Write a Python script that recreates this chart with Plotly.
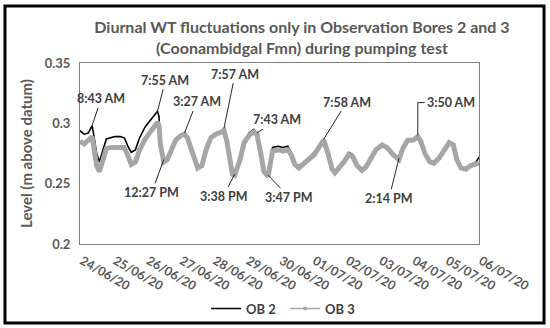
import plotly.graph_objects as go

times = [
    "2020-06-24 00:00", "2020-06-24 03:00", "2020-06-24 06:00", "2020-06-24 08:43",
    "2020-06-24 10:00", "2020-06-24 12:00", "2020-06-24 14:00", "2020-06-24 17:00",
    "2020-06-24 19:00", "2020-06-24 22:00", "2020-06-25 01:00", "2020-06-25 05:00",
    "2020-06-25 08:00", "2020-06-25 11:00", "2020-06-25 13:00", "2020-06-25 16:00",
    "2020-06-25 19:00", "2020-06-25 23:00", "2020-06-26 03:00", "2020-06-26 05:00",
    "2020-06-26 07:55", "2020-06-26 09:00", "2020-06-26 10:00", "2020-06-26 12:27",
    "2020-06-26 15:00", "2020-06-26 18:00", "2020-06-26 21:00", "2020-06-27 01:00",
    "2020-06-27 03:27", "2020-06-27 05:30", "2020-06-27 08:00", "2020-06-27 11:00",
    "2020-06-27 13:00", "2020-06-27 16:00", "2020-06-27 19:00", "2020-06-27 22:30",
    "2020-06-28 02:00", "2020-06-28 06:30", "2020-06-28 07:57", "2020-06-28 10:00",
    "2020-06-28 12:00", "2020-06-28 14:00", "2020-06-28 15:38", "2020-06-28 19:30",
    "2020-06-28 22:30", "2020-06-29 02:00", "2020-06-29 05:30", "2020-06-29 07:43",
    "2020-06-29 10:30", "2020-06-29 12:45", "2020-06-29 15:47", "2020-06-29 17:00",
    "2020-06-29 19:00", "2020-06-29 23:00", "2020-06-30 02:30", "2020-06-30 06:00",
    "2020-06-30 08:30", "2020-06-30 11:00", "2020-06-30 14:00", "2020-06-30 18:00",
    "2020-06-30 21:30", "2020-07-01 01:00", "2020-07-01 04:30", "2020-07-01 07:58",
    "2020-07-01 11:00", "2020-07-01 14:00", "2020-07-01 16:00", "2020-07-01 19:00",
    "2020-07-01 22:30", "2020-07-02 02:00", "2020-07-02 05:00", "2020-07-02 08:00",
    "2020-07-02 11:30", "2020-07-02 14:30", "2020-07-02 18:00", "2020-07-02 21:30",
    "2020-07-03 02:00", "2020-07-03 05:30", "2020-07-03 10:00", "2020-07-03 14:14",
    "2020-07-03 17:00", "2020-07-03 20:30", "2020-07-04 00:30", "2020-07-04 03:50",
    "2020-07-04 06:00", "2020-07-04 09:00", "2020-07-04 12:30", "2020-07-04 15:30",
    "2020-07-04 19:00", "2020-07-04 23:00", "2020-07-05 02:30", "2020-07-05 05:30",
    "2020-07-05 08:00", "2020-07-05 11:00", "2020-07-05 14:30", "2020-07-05 18:00",
    "2020-07-05 22:00", "2020-07-06 00:00",
]

ob2 = [
    0.294, 0.291, 0.292, 0.298, 0.290, 0.275, 0.268, 0.280,
    0.287, 0.288, 0.289, 0.289, 0.288, 0.280, 0.276, 0.278,
    0.288, 0.297, 0.303, 0.306, 0.310, 0.306, 0.285, 0.270,
    0.272, 0.279, 0.287, 0.291, 0.292, 0.289, 0.281, 0.268,
    0.264, 0.266, 0.279, 0.289, 0.292, 0.294, 0.296, 0.286,
    0.268, 0.258, 0.258, 0.271, 0.285, 0.292, 0.295, 0.292,
    0.276, 0.260, 0.257, 0.266, 0.280, 0.281, 0.280, 0.281,
    0.276, 0.267, 0.265, 0.268, 0.272, 0.276, 0.281, 0.287,
    0.276, 0.263, 0.260, 0.264, 0.269, 0.276, 0.274, 0.266,
    0.262, 0.265, 0.272, 0.279, 0.283, 0.281, 0.275, 0.271,
    0.280, 0.287, 0.287, 0.290, 0.286, 0.276, 0.269, 0.268,
    0.272, 0.279, 0.285, 0.283, 0.271, 0.264, 0.263, 0.266,
    0.268, 0.272,
]

ob3 = [
    0.285, 0.283, 0.286, 0.289, 0.280, 0.265, 0.260, 0.270,
    0.279, 0.280, 0.280, 0.281, 0.280, 0.272, 0.266, 0.268,
    0.278, 0.287, 0.293, 0.297, 0.301, 0.298, 0.283, 0.268,
    0.270, 0.278, 0.286, 0.290, 0.291, 0.288, 0.280, 0.268,
    0.263, 0.265, 0.278, 0.288, 0.291, 0.293, 0.294, 0.285,
    0.268, 0.258, 0.257, 0.270, 0.284, 0.290, 0.293, 0.291,
    0.275, 0.260, 0.256, 0.265, 0.277, 0.278, 0.277, 0.278,
    0.274, 0.266, 0.263, 0.267, 0.270, 0.274, 0.280, 0.286,
    0.275, 0.262, 0.259, 0.263, 0.268, 0.274, 0.272, 0.265,
    0.261, 0.264, 0.271, 0.278, 0.282, 0.280, 0.274, 0.270,
    0.279, 0.286, 0.286, 0.289, 0.285, 0.275, 0.268, 0.267,
    0.271, 0.278, 0.284, 0.282, 0.270, 0.263, 0.262, 0.265,
    0.266, 0.267,
]

tick_dates = ["2020-06-24", "2020-06-25", "2020-06-26", "2020-06-27", "2020-06-28",
              "2020-06-29", "2020-06-30", "2020-07-01", "2020-07-02", "2020-07-03",
              "2020-07-04", "2020-07-05", "2020-07-06"]
tick_labels = ["24/06/20", "25/06/20", "26/06/20", "27/06/20", "28/06/20", "29/06/20",
               "30/06/20", "01/07/20", "02/07/20", "03/07/20", "04/07/20", "05/07/20",
               "06/07/20"]

y_ticks = [0.2, 0.25, 0.3, 0.35]
y_tick_labels = ["0.2", "0.25", "0.3", "0.35"]

# annotated times (label text, time in `times`, offset of text from point in px)
note_labels = ["8:43 AM", "7:55 AM", "3:27 AM", "7:57 AM", "7:43 AM", "7:58 AM",
               "12:27 PM", "3:38 PM", "3:47 PM", "2:14 PM"]
note_times = ["2020-06-24 08:43", "2020-06-26 07:55", "2020-06-27 03:27",
              "2020-06-28 07:57", "2020-06-29 07:43", "2020-07-01 07:58",
              "2020-06-26 12:27", "2020-06-28 15:38", "2020-06-29 15:47",
              "2020-07-03 14:14"]
note_offsets = [(9, -27), (8, -31), (12, -31), (11, -54), (20, -13), (23, -37),
                (-12, 33), (-11, 22), (21, 22), (-10, 40)]

elbow_label = "3:50 AM"
elbow_time = "2020-07-04 03:50"

FONT = "Lato"
TXT = "#595959"

fig = go.Figure()
fig.add_trace(go.Scatter(x=times, y=ob2, mode="lines", name="OB 2",
                         line=dict(color="#000000", width=1.6)))
fig.add_trace(go.Scatter(x=times, y=ob3, mode="lines", name="OB 3", showlegend=False,
                         line=dict(color="#A6A6A6", width=5)))
# legend entry for OB 3 (thin line with small marker, as in the source legend)
fig.add_trace(go.Scatter(x=[None], y=[None], mode="lines+markers", name="OB 3",
                         line=dict(color="#A6A6A6", width=1.5),
                         marker=dict(color="#A6A6A6", size=4)))

annotations = []
for lab, t, (ax, ay) in zip(note_labels, note_times, note_offsets):
    v = ob2[times.index(t)]
    annotations.append(dict(
        x=t, y=v, xref="x", yref="y", text=lab, showarrow=True,
        ax=ax, ay=ay, axref="pixel", ayref="pixel",
        arrowhead=0, arrowwidth=1, arrowcolor="#262626", standoff=0,
        font=dict(family=FONT, size=12.5, color="#404040", weight="bold"),
    ))

# elbow connector label
ev = ob2[times.index(elbow_time)]
annotations.append(dict(
    x=elbow_time, y=ev, xref="x", yref="y", text=elbow_label, showarrow=False,
    xshift=33, yshift=33,
    font=dict(family=FONT, size=12.5, color="#404040", weight="bold"),
))

shapes = [
    dict(type="line", xref="x", yref="y", x0=elbow_time, x1=elbow_time,
         y0=ev, y1=0.3172, line=dict(color="#262626", width=1)),
    dict(type="line", xref="x", yref="y", x0=elbow_time, x1="2020-07-04 08:50",
         y0=0.3172, y1=0.3172, line=dict(color="#262626", width=1)),
    dict(type="rect", xref="paper", yref="paper", x0=-0.188, x1=1.163,
         y0=-0.436, y1=1.315, line=dict(color="#000000", width=3)),
]

fig.update_layout(
    width=550, height=328,
    margin=dict(l=80, r=71, t=63, b=84, autoexpand=False),
    paper_bgcolor="white", plot_bgcolor="white",
    title=dict(
        text="Diurnal WT fluctuations only in Observation Bores 2 and 3<br>(Coonambidgal Fmn) during pumping test",
        x=0.549, xanchor="center", xref="container",
        y=0.9, yanchor="top", yref="container",
        font=dict(family=FONT, size=16, color=TXT, weight="bold"),
    ),
    showlegend=True,
    legend=dict(orientation="h", x=0.316, xanchor="left", y=-0.357, yanchor="middle",
                font=dict(family=FONT, size=13, color="#404040", weight="bold"),
                bgcolor="rgba(0,0,0,0)", entrywidth=34, entrywidthmode="pixels",
                itemwidth=30, tracegroupgap=0),
    annotations=annotations,
    shapes=shapes,
    xaxis=dict(
        type="date", range=["2020-06-24", "2020-07-06"], automargin=False,
        tickvals=tick_dates, ticktext=tick_labels, tickangle=30,
        ticklabelshift=2, ticklabelstandoff=4,
        showgrid=False, zeroline=False,
        showline=True, linecolor="#808080", linewidth=1, mirror=True,
        ticks="", tickfont=dict(family=FONT, size=12.5, color=TXT, weight="bold"),
    ),
    yaxis=dict(
        range=[0.2, 0.35], tickvals=y_ticks, ticktext=y_tick_labels, automargin=False,
        showgrid=False, zeroline=False,
        showline=True, linecolor="#808080", linewidth=1, mirror=True,
        ticks="", ticklabelstandoff=6,
        tickfont=dict(family=FONT, size=13, color=TXT, weight="bold"),
        title=dict(text="Level (m above datum)", standoff=8,
                   font=dict(family=FONT, size=15, color=TXT, weight="bold")),
    ),
)

fig.write_html("out.html", config={"displayModeBar": False},
               post_script="document.body.style.margin='0';")
